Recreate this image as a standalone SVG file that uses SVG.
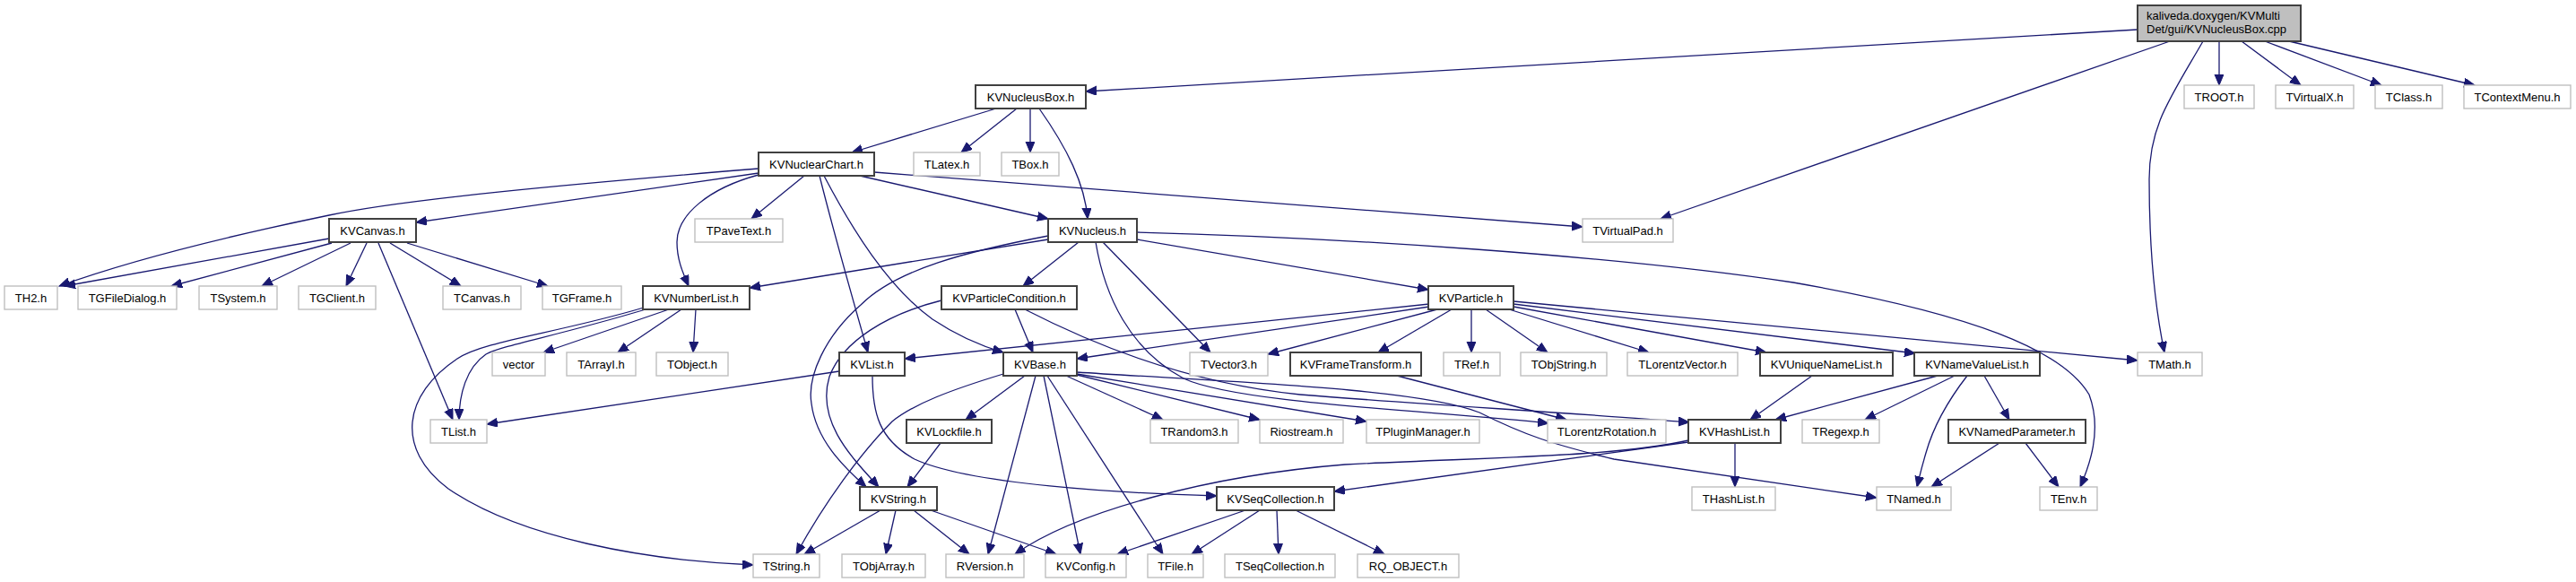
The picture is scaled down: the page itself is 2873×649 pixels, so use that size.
<svg xmlns="http://www.w3.org/2000/svg" width="2873" height="649" viewBox="0 0 2873 649">
<style>
.n rect{fill:#fff;stroke:#bfbfbf;stroke-width:1.4}
.d rect{fill:#fff;stroke:#404040;stroke-width:2}
.r rect{fill:#bfbfbf;stroke:#404040;stroke-width:2}
text{font-family:"Liberation Sans",Arial,Helvetica,sans-serif;font-size:13px;fill:#000;text-anchor:middle}
.r text{text-anchor:start}
#edges path{fill:none;stroke:#191970;stroke-width:1.3;marker-end:url(#a)}
</style>
<defs>
<marker id="a" markerUnits="userSpaceOnUse" markerWidth="14" markerHeight="12" refX="12" refY="5" orient="auto">
<path d="M0,0 L12,5 L0,10 z" fill="#191970" stroke="#191970" stroke-width="1"/>
</marker>
</defs>
<rect width="2873" height="649" fill="#fff"/>
<g id="edges">
<path d="M2384,33 L1211,102"/>
<path d="M2420,46 L1852,244"/>
<path d="M2457,46 C2420,110 2397,140 2397,200 C2397,290 2405,350 2414,393"/>
<path d="M2475,46 L2475,95"/>
<path d="M2500,46 L2566,95"/>
<path d="M2526,46 L2656,95"/>
<path d="M2553,46 L2760,95"/>
<path d="M1111,121 L950,170"/>
<path d="M1134,121 L1072,170"/>
<path d="M1149,121 L1149,170"/>
<path d="M1159,121 C1190,165 1210,205 1213,244"/>
<path d="M846,193 L464,248"/>
<path d="M846,188 C640,205 450,222 367,240 C280,258 160,285 66,319"/>
<path d="M846,195 C790,210 755,240 755,270 C755,290 762,305 768,319"/>
<path d="M897,196 L838,244"/>
<path d="M914,196 C930,260 950,330 968,393"/>
<path d="M919,196 C950,255 990,320 1040,356 C1070,376 1095,386 1119,393"/>
<path d="M959,196 L1169,244"/>
<path d="M975,192 L1765,253"/>
<path d="M367,266 L72,319"/>
<path d="M370,271 L191,319"/>
<path d="M391,271 L292,319"/>
<path d="M409,271 L386,319"/>
<path d="M422,271 L505,468"/>
<path d="M435,271 L514,319"/>
<path d="M454,271 L611,319"/>
<path d="M1169,267 L836,321"/>
<path d="M1169,263 C1080,280 1000,300 960,340 C920,375 900,420 905,450 C910,490 940,520 966,543"/>
<path d="M1203,270 L1141,319"/>
<path d="M1222,270 C1232,330 1260,390 1320,422 C1380,450 1600,458 1727,472"/>
<path d="M1230,270 L1350,393"/>
<path d="M1268,267 L1593,323"/>
<path d="M1268,259 C1500,265 1800,285 2000,315 C2200,350 2300,390 2330,440 C2345,480 2330,520 2320,543"/>
<path d="M718,343 C620,372 540,380 510,400 C450,440 440,500 500,545 C580,600 720,625 840,630"/>
<path d="M720,345 C620,375 560,385 542,395 C520,410 512,440 512,468"/>
<path d="M746,345 L606,393"/>
<path d="M760,345 L689,393"/>
<path d="M776,345 L773,393"/>
<path d="M1050,335 C990,350 940,380 925,420 C910,470 950,510 980,543"/>
<path d="M1132,345 L1152,393"/>
<path d="M1143,345 C1250,400 1350,430 1450,440 C1600,452 1750,460 1884,471"/>
<path d="M1594,339 L1009,400"/>
<path d="M1594,342 L1201,400"/>
<path d="M1603,345 L1414,395"/>
<path d="M1619,345 L1537,393"/>
<path d="M1641,345 L1641,393"/>
<path d="M1657,345 L1726,393"/>
<path d="M1683,345 L1839,393"/>
<path d="M1688,342 L1970,393"/>
<path d="M1688,339 L2136,394"/>
<path d="M1688,336 L2384,402"/>
<path d="M936,414 L543,473"/>
<path d="M973,419 C973,460 980,490 1020,512 C1080,540 1250,550 1357,553"/>
<path d="M1143,419 L1077,468"/>
<path d="M1119,417 C1060,435 1020,450 995,470 C960,505 920,560 888,618"/>
<path d="M1155,419 L1102,618"/>
<path d="M1164,419 L1205,618"/>
<path d="M1168,419 L1297,618"/>
<path d="M1189,419 L1297,468"/>
<path d="M1201,418 L1405,468"/>
<path d="M1201,417 L1524,470"/>
<path d="M1201,415 C1350,425 1580,432 1650,460 C1700,485 1730,495 1800,512 L2093,555"/>
<path d="M1558,419 L1747,468"/>
<path d="M1049,494 L1012,543"/>
<path d="M982,569 L897,618"/>
<path d="M999,569 L988,618"/>
<path d="M1019,569 L1081,618"/>
<path d="M1038,569 L1178,618"/>
<path d="M1389,569 L1246,618"/>
<path d="M1405,569 L1329,618"/>
<path d="M1424,569 L1426,618"/>
<path d="M1445,569 L1544,618"/>
<path d="M1883,493 L1488,548"/>
<path d="M1883,491 C1800,510 1650,510 1500,518 C1350,530 1200,570 1132,618"/>
<path d="M1935,494 L1935,543"/>
<path d="M2021,419 L1952,468"/>
<path d="M2161,419 L1980,468"/>
<path d="M2180,419 L2080,468"/>
<path d="M2194,419 C2170,450 2155,480 2148,505 C2142,525 2140,535 2138,543"/>
<path d="M2213,419 L2241,468"/>
<path d="M2230,494 L2154,543"/>
<path d="M2259,494 L2296,543"/>
</g>
<g id="n_root" class="r"><rect x="2384" y="6" width="182" height="40"/><text x="2394" y="22">kaliveda.doxygen/KVMulti</text><text x="2394" y="37">Det/gui/KVNucleusBox.cpp</text></g>
<g id="n_KVNucleusBox" class="d"><rect x="1088" y="95" width="123" height="26"/><text x="1149.5" y="112.5">KVNucleusBox.h</text></g>
<g id="n_TROOT" class="n"><rect x="2436" y="95" width="78" height="26"/><text x="2475" y="112.5">TROOT.h</text></g>
<g id="n_TVirtualX" class="n"><rect x="2538" y="95" width="87" height="26"/><text x="2581.5" y="112.5">TVirtualX.h</text></g>
<g id="n_TClass" class="n"><rect x="2649" y="95" width="75" height="26"/><text x="2686.5" y="112.5">TClass.h</text></g>
<g id="n_TContextMenu" class="n"><rect x="2748" y="95" width="119" height="26"/><text x="2807.5" y="112.5">TContextMenu.h</text></g>
<g id="n_KVNuclearChart" class="d"><rect x="846" y="170" width="129" height="26"/><text x="910.5" y="187.5">KVNuclearChart.h</text></g>
<g id="n_TLatex" class="n"><rect x="1019" y="170" width="74" height="26"/><text x="1056" y="187.5">TLatex.h</text></g>
<g id="n_TBox" class="n"><rect x="1117" y="170" width="64" height="26"/><text x="1149" y="187.5">TBox.h</text></g>
<g id="n_KVCanvas" class="d"><rect x="367" y="244" width="97" height="26"/><text x="415.5" y="261.5">KVCanvas.h</text></g>
<g id="n_TPaveText" class="n"><rect x="775" y="244" width="98" height="26"/><text x="824" y="261.5">TPaveText.h</text></g>
<g id="n_KVNucleus" class="d"><rect x="1169" y="244" width="99" height="26"/><text x="1218.5" y="261.5">KVNucleus.h</text></g>
<g id="n_TVirtualPad" class="n"><rect x="1765" y="244" width="101" height="26"/><text x="1815.5" y="261.5">TVirtualPad.h</text></g>
<g id="n_TH2" class="n"><rect x="5" y="319" width="59" height="26"/><text x="34.5" y="336.5">TH2.h</text></g>
<g id="n_TGFileDialog" class="n"><rect x="87" y="319" width="110" height="26"/><text x="142" y="336.5">TGFileDialog.h</text></g>
<g id="n_TSystem" class="n"><rect x="222" y="319" width="87" height="26"/><text x="265.5" y="336.5">TSystem.h</text></g>
<g id="n_TGClient" class="n"><rect x="333" y="319" width="86" height="26"/><text x="376" y="336.5">TGClient.h</text></g>
<g id="n_TCanvas" class="n"><rect x="494" y="319" width="87" height="26"/><text x="537.5" y="336.5">TCanvas.h</text></g>
<g id="n_TGFrame" class="n"><rect x="605" y="319" width="88" height="26"/><text x="649" y="336.5">TGFrame.h</text></g>
<g id="n_KVNumberList" class="d"><rect x="717" y="319" width="119" height="26"/><text x="776.5" y="336.5">KVNumberList.h</text></g>
<g id="n_KVParticleCondition" class="d"><rect x="1050" y="319" width="151" height="26"/><text x="1125.5" y="336.5">KVParticleCondition.h</text></g>
<g id="n_KVParticle" class="d"><rect x="1593" y="319" width="95" height="26"/><text x="1640.5" y="336.5">KVParticle.h</text></g>
<g id="n_vector" class="n"><rect x="549" y="393" width="59" height="26"/><text x="578.5" y="410.5">vector</text></g>
<g id="n_TArrayI" class="n"><rect x="632" y="393" width="77" height="26"/><text x="670.5" y="410.5">TArrayI.h</text></g>
<g id="n_TObject" class="n"><rect x="732" y="393" width="80" height="26"/><text x="772" y="410.5">TObject.h</text></g>
<g id="n_KVList" class="d"><rect x="936" y="393" width="73" height="26"/><text x="972.5" y="410.5">KVList.h</text></g>
<g id="n_KVBase" class="d"><rect x="1119" y="393" width="82" height="26"/><text x="1160" y="410.5">KVBase.h</text></g>
<g id="n_TVector3" class="n"><rect x="1327" y="393" width="87" height="26"/><text x="1370.5" y="410.5">TVector3.h</text></g>
<g id="n_KVFrameTransform" class="d"><rect x="1439" y="393" width="146" height="26"/><text x="1512" y="410.5">KVFrameTransform.h</text></g>
<g id="n_TRef" class="n"><rect x="1610" y="393" width="63" height="26"/><text x="1641.5" y="410.5">TRef.h</text></g>
<g id="n_TObjString" class="n"><rect x="1696" y="393" width="96" height="26"/><text x="1744" y="410.5">TObjString.h</text></g>
<g id="n_TLorentzVector" class="n"><rect x="1815" y="393" width="123" height="26"/><text x="1876.5" y="410.5">TLorentzVector.h</text></g>
<g id="n_KVUniqueNameList" class="d"><rect x="1963" y="393" width="148" height="26"/><text x="2037" y="410.5">KVUniqueNameList.h</text></g>
<g id="n_KVNameValueList" class="d"><rect x="2135" y="393" width="140" height="26"/><text x="2205" y="410.5">KVNameValueList.h</text></g>
<g id="n_TMath" class="n"><rect x="2384" y="393" width="72" height="26"/><text x="2420" y="410.5">TMath.h</text></g>
<g id="n_TList" class="n"><rect x="480" y="468" width="63" height="26"/><text x="511.5" y="485.5">TList.h</text></g>
<g id="n_KVLockfile" class="d"><rect x="1011" y="468" width="95" height="26"/><text x="1058.5" y="485.5">KVLockfile.h</text></g>
<g id="n_TRandom3" class="n"><rect x="1283" y="468" width="98" height="26"/><text x="1332" y="485.5">TRandom3.h</text></g>
<g id="n_Riostream" class="n"><rect x="1405" y="468" width="93" height="26"/><text x="1451.5" y="485.5">Riostream.h</text></g>
<g id="n_TPluginManager" class="n"><rect x="1524" y="468" width="126" height="26"/><text x="1587" y="485.5">TPluginManager.h</text></g>
<g id="n_TLorentzRotation" class="n"><rect x="1726" y="468" width="132" height="26"/><text x="1792" y="485.5">TLorentzRotation.h</text></g>
<g id="n_KVHashList" class="d"><rect x="1883" y="468" width="103" height="26"/><text x="1934.5" y="485.5">KVHashList.h</text></g>
<g id="n_TRegexp" class="n"><rect x="2010" y="468" width="86" height="26"/><text x="2053" y="485.5">TRegexp.h</text></g>
<g id="n_KVNamedParameter" class="d"><rect x="2173" y="468" width="153" height="26"/><text x="2249.5" y="485.5">KVNamedParameter.h</text></g>
<g id="n_KVString" class="d"><rect x="959" y="543" width="86" height="26"/><text x="1002" y="560.5">KVString.h</text></g>
<g id="n_KVSeqCollection" class="d"><rect x="1357" y="543" width="131" height="26"/><text x="1422.5" y="560.5">KVSeqCollection.h</text></g>
<g id="n_THashList" class="n"><rect x="1887" y="543" width="93" height="26"/><text x="1933.5" y="560.5">THashList.h</text></g>
<g id="n_TNamed" class="n"><rect x="2093" y="543" width="83" height="26"/><text x="2134.5" y="560.5">TNamed.h</text></g>
<g id="n_TEnv" class="n"><rect x="2275" y="543" width="64" height="26"/><text x="2307" y="560.5">TEnv.h</text></g>
<g id="n_TString" class="n"><rect x="840" y="618" width="74" height="26"/><text x="877" y="635.5">TString.h</text></g>
<g id="n_TObjArray" class="n"><rect x="939" y="618" width="93" height="26"/><text x="985.5" y="635.5">TObjArray.h</text></g>
<g id="n_RVersion" class="n"><rect x="1055" y="618" width="87" height="26"/><text x="1098.5" y="635.5">RVersion.h</text></g>
<g id="n_KVConfig" class="n"><rect x="1166" y="618" width="90" height="26"/><text x="1211" y="635.5">KVConfig.h</text></g>
<g id="n_TFile" class="n"><rect x="1280" y="618" width="62" height="26"/><text x="1311" y="635.5">TFile.h</text></g>
<g id="n_TSeqCollection" class="n"><rect x="1366" y="618" width="123" height="26"/><text x="1427.5" y="635.5">TSeqCollection.h</text></g>
<g id="n_RQ_OBJECT" class="n"><rect x="1514" y="618" width="113" height="26"/><text x="1570.5" y="635.5">RQ_OBJECT.h</text></g>
</svg>
